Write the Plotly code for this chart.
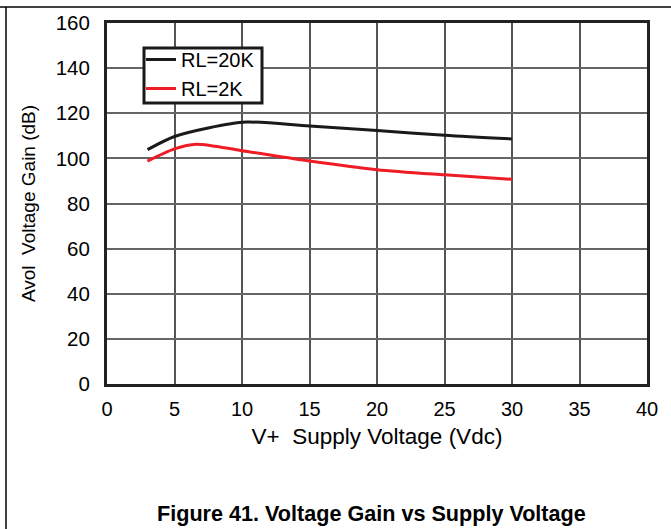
import plotly.graph_objects as go

x_20k = [3, 5, 7.5, 10.3, 15, 20, 25, 30]
y_20k = [103.9, 109.7, 113.5, 116.1, 114.3, 112.4, 110.2, 108.6]
x_2k = [3, 5, 6.6, 10, 15, 20, 25, 30]
y_2k = [98.8, 104.2, 106.3, 103.4, 98.8, 95.0, 92.7, 90.7]
names = ["RL=20K", "RL=2K"]
colors = ["#1a1a1a", "#ee1c25"]

FONT = "Liberation Sans, Arial, sans-serif"
fig = go.Figure()
fig.add_trace(go.Scatter(x=x_20k, y=y_20k, mode="lines", name=names[0],
                         line=dict(color=colors[0], width=3, shape="spline", smoothing=0.8)))
fig.add_trace(go.Scatter(x=x_2k, y=y_2k, mode="lines", name=names[1],
                         line=dict(color=colors[1], width=3, shape="spline", smoothing=0.8)))

W, H = 671, 529
L, R, T, B = 107, 24, 23, 145
pw, ph = W - L - R, H - T - B

def px(x):
    return (x - L) / pw

def py(y):
    return (H - B - y) / ph

fig.update_layout(
    width=W, height=H,
    margin=dict(l=L, r=R, t=T, b=B),
    paper_bgcolor="white", plot_bgcolor="white",
    font=dict(family=FONT, color="black", size=20),
    showlegend=True,
    legend=dict(x=px(141), y=py(40), xanchor="left", yanchor="top",
                borderwidth=0, bgcolor="rgba(0,0,0,0)",
                font=dict(size=20, family=FONT), itemwidth=30,
                tracegroupgap=0),
    xaxis=dict(range=[0, 40], dtick=5, showgrid=True, gridcolor="#555555", gridwidth=1.5,
               zeroline=False, showline=True, linecolor="#222222", linewidth=3, mirror=True,
               ticks="", tickfont=dict(size=20), fixedrange=True, ticklabelstandoff=5,
               title=dict(text="V+  Supply Voltage (Vdc)", font=dict(size=22.5), standoff=10)),
    yaxis=dict(range=[0, 160], dtick=20, showgrid=True, gridcolor="#666666", gridwidth=1.5,
               zeroline=False, showline=True, linecolor="#222222", linewidth=3, mirror=True,
               ticks="", tickfont=dict(size=20.5), fixedrange=True, ticklabelstandoff=10,
               title=dict(text="Avol  Voltage Gain (dB)", font=dict(size=19), standoff=16)),
)

# legend frame
fig.add_shape(type="rect", xref="paper", yref="paper", x0=px(144), x1=px(262), y0=py(48), y1=py(103),
              fillcolor="white", line=dict(color="#1a1a1a", width=3), layer="above")

fig.add_shape(type="line", xref="paper", yref="paper", x0=px(0), x1=px(W), y0=py(7), y1=py(7),
              line=dict(color="black", width=1.5))
fig.add_shape(type="line", xref="paper", yref="paper", x0=px(6), x1=px(6), y0=py(7), y1=py(H),
              line=dict(color="black", width=1.5))

fig.add_annotation(text="<b>Figure 41. Voltage Gain vs Supply Voltage</b>", xref="paper", yref="paper",
                   x=px(371), y=py(513), xanchor="center", yanchor="middle", showarrow=False,
                   font=dict(size=21.6, family=FONT))

fig.write_html("out.html", config={"displayModeBar": False},
               post_script="document.body.style.margin='0';document.body.style.overflow='hidden';")
